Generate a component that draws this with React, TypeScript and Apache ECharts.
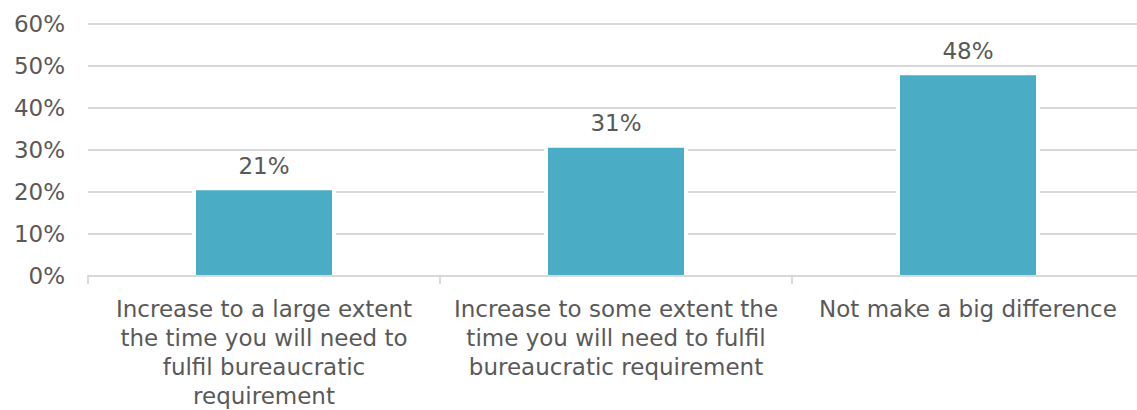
import React, { useEffect, useRef } from "react";
import * as echarts from "echarts";

const categories = [
  "Increase to a large extent\nthe time you will need to\nfulfil bureaucratic\nrequirement",
  "Increase to some extent the\ntime you will need to fulfil\nbureaucratic requirement",
  "Not make a big difference",
];
const values = [20.4, 30.5, 47.7];
const valueLabels = ["21%", "31%", "48%"];
const yTicks = { min: 0, max: 60, interval: 10 };

const TEXT = "#595959";
const GRID = "#d9d9d9";
const FONT = "'DejaVu Sans', Verdana, sans-serif";

export default function App() {
  const ref = useRef<HTMLDivElement>(null);
  useEffect(() => {
    if (!ref.current) return;
    const chart = echarts.init(ref.current, undefined, { renderer: "svg" });
    chart.setOption({
      animation: false,
      grid: { left: 88, top: 23.5, width: 1056, height: 256.5, containLabel: false },
      xAxis: [
        {
          type: "category",
          data: categories,
          z: 5,
          axisLine: { show: true, lineStyle: { color: GRID, width: 2 } },
          axisTick: { show: true, length: 8, lineStyle: { color: GRID, width: 2 } },
          axisLabel: {
            interval: 0,
            margin: 18,
            color: TEXT,
            fontFamily: FONT,
            fontSize: 23,
            lineHeight: 29,
            align: "center",
          },
        },
        {
          type: "category",
          data: categories,
          show: false,
        },
      ],
      yAxis: {
        type: "value",
        min: yTicks.min,
        max: yTicks.max,
        interval: yTicks.interval,
        axisLine: { show: false },
        axisTick: { show: false },
        axisLabel: {
          formatter: "{value}%",
          color: TEXT,
          fontFamily: FONT,
          fontSize: 23,
          margin: 23,
        },
        splitLine: { lineStyle: { color: GRID, width: 2 } },
      },
      series: [
        {
          type: "bar",
          xAxisIndex: 1,
          data: values,
          barWidth: 144,
          silent: true,
          itemStyle: { color: "#ffffff" },
        },
        {
          type: "bar",
          xAxisIndex: 0,
          data: values,
          barWidth: 136,
          itemStyle: { color: "#4bacc6" },
          label: {
            show: true,
            position: "top",
            distance: 13,
            color: TEXT,
            fontFamily: FONT,
            fontSize: 23,
            formatter: (p: any) => valueLabels[p.dataIndex],
          },
        },
      ],
    });
    return () => chart.dispose();
  }, []);
  return (
    <div
      ref={ref}
      style={{ position: "fixed", left: 0, top: 0, width: 1150, height: 410, background: "#fff" }}
    />
  );
}
